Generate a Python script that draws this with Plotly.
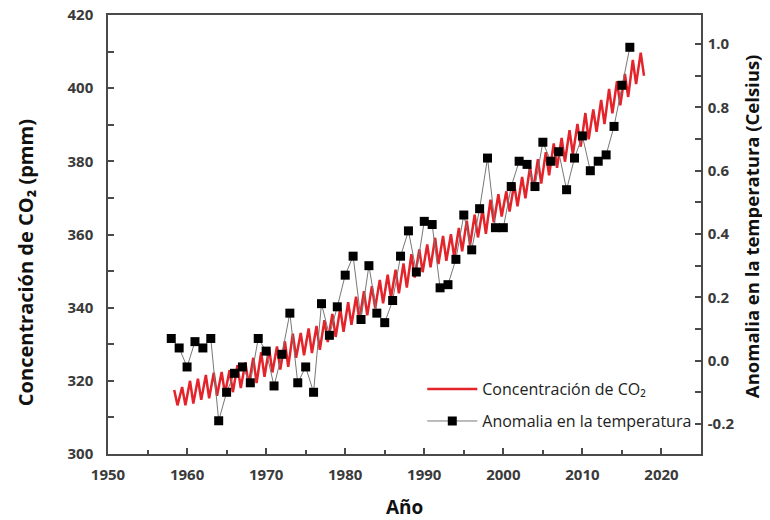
import plotly.graph_objects as go

# Mauna Loa CO2, seasonal peak (May) and trough (Oct) per year, ppm
co2_years = list(range(1958, 2018))
co2_may = [
    317.5, 318.3, 320.0, 320.6, 321.6, 322.2, 322.4, 322.9, 324.3, 325.0,
    326.3, 327.8, 328.9, 329.4, 330.8, 332.9, 333.1, 334.3, 335.0, 336.6,
    338.3, 339.8, 341.5, 343.0, 344.5, 345.9, 347.6, 349.0, 350.4, 352.1,
    354.6, 355.9, 357.3, 359.1, 359.6, 360.1, 361.8, 363.8, 365.4, 366.8,
    369.5, 371.0, 371.8, 373.8, 375.7, 378.5, 380.6, 382.5, 384.9, 386.4,
    388.5, 390.2, 393.2, 394.2, 396.8, 399.8, 401.9, 403.9, 407.7, 409.7,
]
co2_oct = [
    313.3, 313.3, 313.8, 314.8, 315.2, 315.9, 316.5, 316.9, 318.0, 318.9,
    319.4, 321.1, 322.3, 323.1, 323.8, 326.3, 327.0, 327.6, 328.5, 330.6,
    332.0, 333.4, 335.3, 336.6, 337.9, 339.9, 341.2, 342.7, 343.9, 345.5,
    348.2, 349.7, 351.0, 351.9, 352.8, 353.7, 355.4, 357.1, 359.2, 360.2,
    363.3, 364.9, 366.3, 367.7, 369.9, 372.4, 373.9, 376.2, 378.2, 379.9,
    381.9, 384.0, 386.0, 388.1, 390.2, 393.1, 395.3, 397.6, 401.1, 403.4,
]

# global temperature anomaly, Celsius
temp_years = list(range(1958, 2017))
temp_anomaly = [
    0.07, 0.04, -0.02, 0.06, 0.04, 0.07, -0.19, -0.10, -0.04, -0.02,
    -0.07, 0.07, 0.03, -0.08, 0.02, 0.15, -0.07, -0.02, -0.10, 0.18,
    0.08, 0.17, 0.27, 0.33, 0.13, 0.30, 0.15, 0.12, 0.19, 0.33,
    0.41, 0.28, 0.44, 0.43, 0.23, 0.24, 0.32, 0.46, 0.35, 0.48,
    0.64, 0.42, 0.42, 0.55, 0.63, 0.62, 0.55, 0.69, 0.63, 0.66,
    0.54, 0.64, 0.71, 0.60, 0.63, 0.65, 0.74, 0.87, 0.99,
]

right_ticks = [-0.2, 0.0, 0.2, 0.4, 0.6, 0.8, 1.0]
right_labels = ["-0.2", "0.0", "0.2", "0.4", "0.6", "0.8", "1.0"]

# peak in mid-May, trough in mid-October
co2_x, co2_y = [], []
for yr, hi, lo in zip(co2_years, co2_may, co2_oct):
    co2_x += [yr + 4.5 / 12, yr + 9.5 / 12]
    co2_y += [hi, lo]

tick_font = dict(family="Open Sans", size=15, color="#3a3a3a", weight="bold")
legend_font = dict(family="Open Sans", size=16, color="#222222")
axis_line = "#4a4a4a"

fig = go.Figure()
fig.add_trace(go.Scatter(
    x=co2_x, y=co2_y, mode="lines", name="Concentración de CO₂",
    line=dict(color="#e3242b", width=2.5), legend="legend", showlegend=True,
))
fig.add_trace(go.Scatter(
    x=temp_years, y=temp_anomaly, mode="lines+markers", yaxis="y2",
    name="Anomalia en la temperatura",
    line=dict(color="#777777", width=1),
    marker=dict(symbol="square", size=9, color="black"),
    legend="legend2", showlegend=True,
))

# page body has an 8px margin, so the figure is 8px smaller than the window
fig.update_layout(
    width=762, height=512,
    margin=dict(l=100, r=69, t=7, b=66),
    plot_bgcolor="white", paper_bgcolor="white",
    xaxis=dict(
        range=[1950, 2025], dtick=10, tick0=1950, automargin=False,
        showline=True, linecolor=axis_line, linewidth=1.5, mirror=True,
        ticks="inside", ticklen=6, tickcolor=axis_line, tickwidth=1.5,
        minor=dict(ticks="inside", dtick=5, ticklen=4, tickcolor=axis_line),
        showgrid=False, zeroline=False, tickfont=tick_font,
        ticklabelstandoff=6,
    ),
    yaxis=dict(
        range=[300, 420], dtick=20, automargin=False,
        showline=True, linecolor=axis_line, linewidth=1.5,
        ticks="inside", ticklen=6, tickcolor=axis_line, tickwidth=1.5,
        minor=dict(ticks="inside", dtick=10, ticklen=6, tickcolor=axis_line),
        showgrid=False, zeroline=False, tickfont=tick_font,
        ticklabelstandoff=10, ticklabeloverflow="allow",
    ),
    yaxis2=dict(
        overlaying="y", side="right", range=[-0.295, 1.092], automargin=False,
        tickvals=right_ticks, ticktext=right_labels,
        showline=True, linecolor=axis_line, linewidth=1.5,
        ticks="inside", ticklen=6, tickcolor=axis_line, tickwidth=1.5,
        minor=dict(ticks="inside", dtick=0.1, tick0=-0.1, ticklen=6, tickcolor=axis_line),
        showgrid=False, zeroline=False, tickfont=tick_font,
        ticklabelstandoff=2, ticklabeloverflow="allow",
    ),
    legend=dict(x=0.53, y=0.148, xanchor="left", yanchor="middle",
                bgcolor="rgba(0,0,0,0)", font=legend_font, itemwidth=50),
    legend2=dict(x=0.53, y=0.075, xanchor="left", yanchor="middle",
                 bgcolor="rgba(0,0,0,0)", font=legend_font, itemwidth=50),
)

# axis titles as annotations so they sit where the original has them
titles = [
    ("Concentración de CO₂ (pmm)", -0.14, 0.437, -90, 20),
    ("Anomalia en la temperatura (Celsius)", 1.085, 0.52, -90, 18.5),
    ("Año", 0.5, -0.121, 0, 19),
]
for text, tx, ty, angle, size in titles:
    fig.add_annotation(
        text=text, textangle=angle,
        xref="paper", yref="paper", x=tx, y=ty,
        xanchor="center", yanchor="middle", showarrow=False,
        font=dict(family="Open Sans", size=size, color="#111111", weight="bold"),
    )

fig.write_html("out.html")
